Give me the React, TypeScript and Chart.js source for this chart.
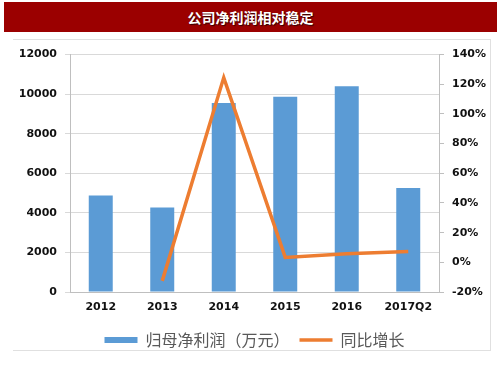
import React, { useEffect, useRef } from "react";
import { Chart, registerables } from "chart.js";

Chart.register(...registerables);

const title = "公司净利润相对稳定";
const categories = ["2012", "2013", "2014", "2015", "2016", "2017Q2"];
const profitLabel = "归母净利润（万元）";
const profit = [4880, 4270, 9550, 9870, 10400, 5260];
const growthLabel = "同比增长";
const growth = [null, -12.5, 124.5, 3.3, 5.7, 7.3];

const BLUE = "#5B9BD5";
const ORANGE = "#ED7D31";
const GRID = "#d9d9d9";
const AXIS = "#bfbfbf";

export default function App() {
  const ref = useRef<HTMLCanvasElement>(null);
  useEffect(() => {
    const tickFont = { family: "'DejaVu Sans', sans-serif", size: 11, weight: "bold" as const };
    const chart = new Chart(ref.current!, {
      type: "bar",
      data: {
        labels: categories,
        datasets: [
          {
            type: "bar",
            label: profitLabel,
            data: profit,
            backgroundColor: BLUE,
            borderWidth: 0,
            yAxisID: "y",
            order: 1,
            barPercentage: 0.39,
            categoryPercentage: 1,
          },
          {
            type: "line",
            label: growthLabel,
            data: growth as any,
            borderColor: ORANGE,
            backgroundColor: ORANGE,
            borderWidth: 3.5,
            pointRadius: 0,
            tension: 0,
            yAxisID: "y1",
            order: 0,
            spanGaps: false,
          },
        ],
      },
      options: {
        animation: false,
        responsive: false,
        maintainAspectRatio: false,
        layout: { padding: { left: 20, top: 12, right: 0, bottom: 0 } },
        plugins: {
          tooltip: { enabled: false },
          legend: {
            position: "bottom",
            labels: {
              usePointStyle: true,
              pointStyleWidth: 33,
              boxWidth: 33,
              boxHeight: 6,
              padding: 10,
              color: "#595959",
              font: { family: "'Noto Sans CJK SC', sans-serif", size: 16 },
              sort: (a: any, b: any) => a.datasetIndex - b.datasetIndex,
              generateLabels: (c: any) => {
                const items = Chart.defaults.plugins.legend.labels.generateLabels(c);
                return items.map((it: any) => {
                  if (it.datasetIndex === 0) {
                    return { ...it, pointStyle: "rect", fillStyle: BLUE, strokeStyle: BLUE, lineWidth: 0 };
                  }
                  return { ...it, pointStyle: "line", fillStyle: ORANGE, strokeStyle: ORANGE, lineWidth: 3.5 };
                });
              },
            },
          },
        },
        scales: {
          x: {
            grid: { display: false, drawTicks: false },
            border: { display: true, color: AXIS, width: 1 },
            ticks: { font: tickFont, color: "#111", padding: 9, maxRotation: 0 },
            afterFit: (s: any) => {
              s.height = 30;
            },
          },
          y: {
            position: "left",
            min: 0,
            max: 12000,
            grid: { color: GRID, tickLength: 5, lineWidth: 1 },
            border: { display: true, color: AXIS },
            ticks: {
              stepSize: 2000,
              font: tickFont,
              color: "#111",
              padding: 8,
              callback: (v: any) => String(v),
            },
            afterFit: (s: any) => {
              s.width = 50;
            },
          },
          y1: {
            position: "right",
            min: -20,
            max: 140,
            grid: { drawOnChartArea: false, color: AXIS, tickLength: 5 },
            border: { display: true, color: AXIS },
            ticks: {
              stepSize: 20,
              font: tickFont,
              color: "#111",
              padding: 8,
              callback: (v: any) => v + "%",
            },
            afterFit: (s: any) => {
              s.width = 50;
            },
          },
        },
      },
    });
    return () => chart.destroy();
  }, []);

  return (
    <div style={{ position: "absolute", left: 0, top: 0, width: 503, height: 378, background: "#fff" }}>
      <div
        style={{
          position: "absolute",
          left: 4,
          top: 2,
          width: 493,
          height: 30,
          background: "#9b0000",
          color: "#fff",
          fontFamily: "'Noto Sans CJK SC', sans-serif",
          fontWeight: "bold",
          fontSize: 14,
          lineHeight: "30px",
          textAlign: "center",
          textShadow: "1px 1px 1px #300",
        }}
      >
        {title}
      </div>
      <div
        style={{
          position: "absolute",
          left: 13,
          top: 39,
          width: 478,
          height: 312,
          boxSizing: "border-box",
          borderTop: "1px solid #e0e0e0",
          borderRight: "1px solid #e0e0e0",
          borderBottom: "1px solid #e0e0e0",
        }}
      />
      <canvas
        ref={ref}
        width={489}
        height={318}
        style={{ position: "absolute", left: 0, top: 40, width: 489, height: 318 }}
      />
    </div>
  );
}
